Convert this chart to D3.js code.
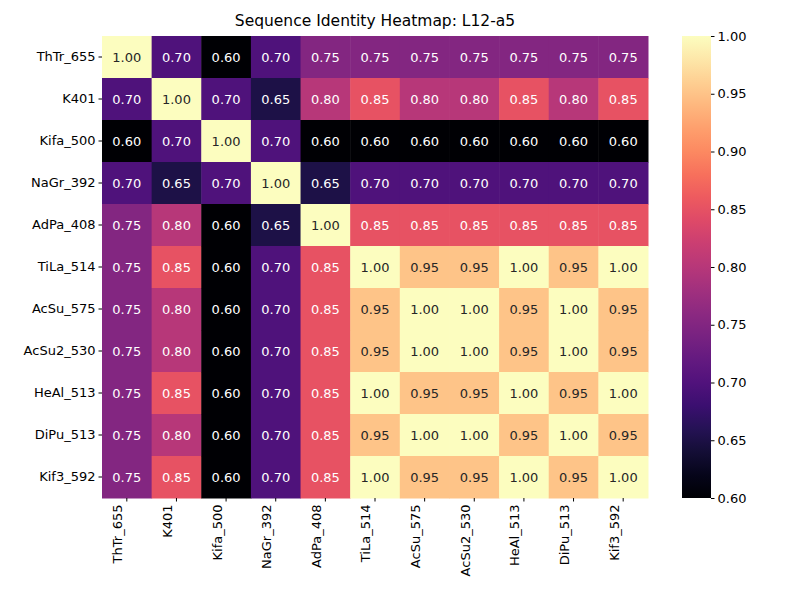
<!DOCTYPE html>
<html><head><meta charset="utf-8">
<script src="https://cdn.jsdelivr.net/npm/d3@7"></script>
<style>body{margin:0;background:#fff}text{font-family:"DejaVu Sans",sans-serif}</style>
</head><body>
<script>
const labels = ["ThTr_655","K401","Kifa_500","NaGr_392","AdPa_408","TiLa_514","AcSu_575","AcSu2_530","HeAl_513","DiPu_513","Kif3_592"];
const values = [
  [1.00,0.70,0.60,0.70,0.75,0.75,0.75,0.75,0.75,0.75,0.75],
  [0.70,1.00,0.70,0.65,0.80,0.85,0.80,0.80,0.85,0.80,0.85],
  [0.60,0.70,1.00,0.70,0.60,0.60,0.60,0.60,0.60,0.60,0.60],
  [0.70,0.65,0.70,1.00,0.65,0.70,0.70,0.70,0.70,0.70,0.70],
  [0.75,0.80,0.60,0.65,1.00,0.85,0.85,0.85,0.85,0.85,0.85],
  [0.75,0.85,0.60,0.70,0.85,1.00,0.95,0.95,1.00,0.95,1.00],
  [0.75,0.80,0.60,0.70,0.85,0.95,1.00,1.00,0.95,1.00,0.95],
  [0.75,0.80,0.60,0.70,0.85,0.95,1.00,1.00,0.95,1.00,0.95],
  [0.75,0.85,0.60,0.70,0.85,1.00,0.95,0.95,1.00,0.95,1.00],
  [0.75,0.80,0.60,0.70,0.85,0.95,1.00,1.00,0.95,1.00,0.95],
  [0.75,0.85,0.60,0.70,0.85,1.00,0.95,0.95,1.00,0.95,1.00]
];
const cbTicks = [0.60,0.65,0.70,0.75,0.80,0.85,0.90,0.95,1.00];

const svg = d3.select("body").append("svg").attr("width",800).attr("height",600);
const x = d3.scaleBand().domain(labels).range([102,648]);
const y = d3.scaleBand().domain(labels).range([36,498]);
const color = d3.scaleSequential(d3.interpolateMagma).domain([0.6,1.0]);

function lum(c){
  const r = d3.rgb(c);
  const f = v => { v/=255; return v<=0.03928 ? v/12.92 : Math.pow((v+0.055)/1.055,2.4); };
  return 0.2126*f(r.r)+0.7152*f(r.g)+0.0722*f(r.b);
}

const cells = [];
values.forEach((row,i)=>row.forEach((v,j)=>cells.push({r:labels[i],c:labels[j],v})));

svg.selectAll("rect.cell").data(cells).enter().append("rect")
  .attr("x",d=>x(d.c)).attr("y",d=>y(d.r))
  .attr("width",x.bandwidth()+0.5).attr("height",y.bandwidth()+0.5)
  .attr("fill",d=>color(d.v));

svg.selectAll("text.val").data(cells).enter().append("text")
  .attr("x",d=>x(d.c)+x.bandwidth()/2).attr("y",d=>y(d.r)+y.bandwidth()/2)
  .attr("text-anchor","middle").attr("dominant-baseline","central")
  .attr("font-size",13)
  .attr("fill",d=>lum(color(d.v))>0.408?"#262626":"#fff")
  .text(d=>d.v.toFixed(2));

const ax = svg.append("g").attr("transform","translate(0,498)")
  .call(d3.axisBottom(x).tickSize(3.5).tickSizeOuter(0));
ax.select(".domain").remove();
ax.selectAll("text").attr("font-size",13).attr("text-anchor","end")
  .attr("transform","rotate(-90)").attr("dx","-0.5em").attr("dy","-0.35em").attr("x",0).attr("y",0)
  .style("font-family","DejaVu Sans");
const ay = svg.append("g").attr("transform","translate(102,0)")
  .call(d3.axisLeft(y).tickSize(3.5).tickSizeOuter(0));
ay.select(".domain").remove();
ay.selectAll("text").attr("font-size",13).style("font-family","DejaVu Sans");

// colorbar
const cbY = d3.scaleLinear().domain([0.6,1.0]).range([498,36]);
const defs = svg.append("defs");
const grad = defs.append("linearGradient").attr("id","g").attr("x1",0).attr("y1",1).attr("x2",0).attr("y2",0);
d3.range(0,1.0001,0.05).forEach(t=>grad.append("stop").attr("offset",t).attr("stop-color",d3.interpolateMagma(t)));
svg.append("rect").attr("x",682).attr("y",36).attr("width",29).attr("height",462).attr("fill","url(#g)");
const cb = svg.append("g").attr("transform","translate(711,0)")
  .call(d3.axisRight(cbY).tickValues(cbTicks).tickFormat(d3.format(".2f")).tickSize(3.5).tickSizeOuter(0));
cb.select(".domain").remove();
cb.selectAll("text").attr("font-size",13).style("font-family","DejaVu Sans");

svg.append("text").attr("x",375).attr("y",26).attr("text-anchor","middle")
  .attr("font-size",15.5).text("Sequence Identity Heatmap: L12-a5");
</script>
</body></html>
